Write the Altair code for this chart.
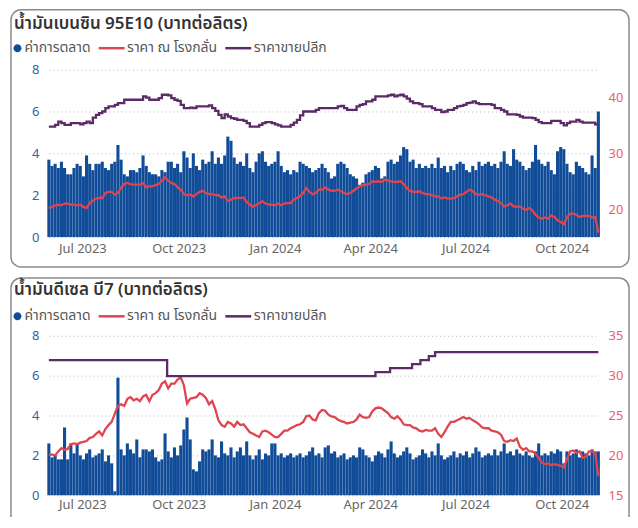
import altair as alt
import pandas as pd

# ---------------- data ----------------
START = "2023-05-30"          # first sample shown, then every 3 days
N_POINTS = 176

SERIES = ["ค่าการตลาด", "ราคา ณ โรงกลั่น", "ราคาขายปลีก"]

# Gasohol 95E10 -- marketing margin (left axis, baht/litre)
top_margin = [
    3.7, 3.4, 3.5, 3.3, 3.6, 3.3, 3.0, 3.0, 3.3, 3.5,
    3.4, 2.9, 3.9, 3.5, 3.2, 3.5, 3.5, 3.6, 3.3, 3.2,
    3.5, 3.6, 4.4, 3.7, 3.0, 2.9, 3.2, 3.2, 3.1, 3.3,
    3.9, 3.4, 3.1, 3.0, 3.0, 2.9, 3.2, 3.1, 3.6, 3.6,
    3.3, 3.5, 3.1, 4.1, 3.8, 3.3, 4.0, 3.4, 3.2, 3.7,
    3.5, 3.6, 4.1, 3.5, 3.8, 3.5, 3.9, 4.8, 4.6, 3.8,
    3.5, 3.6, 3.4, 4.0, 3.3, 3.1, 3.6, 4.0, 4.1, 3.6,
    3.4, 3.5, 3.6, 4.1, 3.4, 3.1, 3.2, 3.0, 3.2, 3.1,
    3.6, 3.5, 3.4, 3.3, 3.1, 3.2, 3.3, 3.5, 3.3, 3.1,
    2.8, 2.9, 3.5, 3.6, 3.5, 3.3, 3.0, 2.9, 2.8, 2.5,
    2.6, 3.0, 3.1, 3.2, 3.4, 3.3, 2.8, 2.9, 3.6, 3.7,
    3.5, 3.6, 3.9, 4.3, 4.2, 3.6, 3.7, 3.3, 3.5, 3.3,
    3.4, 3.3, 3.5, 3.3, 3.8, 3.3, 3.4, 3.1, 3.4, 3.2,
    3.5, 3.6, 3.5, 3.2, 3.1, 3.4, 3.2, 3.6, 3.4, 3.5,
    3.6, 3.4, 3.5, 3.3, 3.6, 4.1, 3.5, 3.4, 4.2, 3.7,
    3.6, 3.4, 3.2, 3.3, 3.6, 4.4, 3.7, 3.5, 3.4, 3.6,
    3.2, 3.0, 4.1, 4.3, 4.2, 3.5, 3.1, 3.0, 3.6, 3.4,
    3.3, 3.1, 3.0, 3.9, 3.3, 6.0,
]
# Gasohol 95E10 -- ex-refinery price (right axis)
top_refinery = [
    20.2, 20.4, 20.7, 20.8, 20.7, 21.0, 21.0, 20.8, 20.8, 20.7,
    20.8, 20.4, 20.2, 21.1, 21.5, 21.9, 22.0, 22.0, 22.9, 23.1,
    23.1, 22.6, 22.9, 23.8, 24.5, 24.7, 24.5, 24.4, 24.4, 24.4,
    24.7, 23.9, 24.1, 24.1, 24.3, 24.5, 25.1, 25.7, 25.1, 24.7,
    24.5, 23.9, 23.5, 22.7, 22.5, 22.6, 22.3, 22.7, 23.1, 23.3,
    22.9, 22.7, 22.7, 22.5, 22.5, 22.1, 22.3, 21.5, 21.7, 22.0,
    22.0, 22.0, 22.1, 21.3, 20.8, 20.5, 20.7, 21.1, 21.4, 21.0,
    20.8, 20.8, 20.7, 21.0, 20.7, 21.0, 21.1, 21.1, 21.7, 22.0,
    22.3, 22.9, 23.8, 23.1, 22.7, 22.9, 23.5, 23.5, 23.9, 23.5,
    23.3, 23.3, 23.5, 23.2, 22.9, 22.7, 22.9, 23.3, 23.7, 24.1,
    24.3, 24.4, 24.5, 25.0, 24.9, 25.0, 24.9, 25.3, 25.1, 25.0,
    24.9, 24.9, 25.0, 24.5, 23.8, 23.3, 23.1, 23.1, 23.2, 22.9,
    22.7, 22.7, 22.5, 22.3, 22.3, 21.9, 22.1, 21.9, 21.9, 22.0,
    22.3, 22.6, 22.7, 23.1, 23.5, 23.2, 22.7, 22.6, 22.7, 22.5,
    22.3, 22.1, 21.7, 21.5, 21.1, 20.5, 20.7, 21.0, 20.5, 20.4,
    20.5, 20.1, 19.9, 20.2, 19.8, 19.0, 18.5, 18.3, 18.5, 18.3,
    18.9, 18.6, 18.0, 17.7, 17.3, 18.5, 19.2, 19.2, 19.0, 18.6,
    18.8, 18.8, 18.8, 18.5, 18.6, 15.8,
]
# Gasohol 95E10 -- retail price (right axis)
top_retail = [
    34.8, 34.8, 35.1, 35.7, 35.4, 35.1, 35.1, 35.4, 35.4, 35.4,
    35.2, 35.4, 35.7, 35.4, 36.4, 36.9, 37.2, 37.5, 38.1, 38.4,
    38.4, 38.7, 39.0, 39.0, 39.6, 39.6, 39.6, 39.6, 39.6, 39.6,
    40.2, 40.0, 39.6, 39.6, 39.6, 39.9, 40.5, 40.5, 40.4, 39.9,
    39.6, 39.4, 38.7, 38.1, 38.1, 38.2, 38.1, 38.4, 38.4, 38.4,
    38.4, 38.6, 38.1, 37.6, 36.9, 36.3, 37.0, 36.6, 36.3, 36.2,
    36.0, 36.0, 35.8, 35.4, 34.8, 34.8, 34.8, 35.1, 35.4, 35.6,
    35.6, 35.4, 35.2, 35.0, 34.8, 34.8, 34.8, 35.1, 35.5, 36.0,
    36.8, 37.5, 37.5, 37.5, 37.5, 37.8, 38.1, 38.1, 38.1, 38.1,
    38.1, 38.1, 38.4, 38.5, 38.1, 37.8, 37.8, 37.8, 38.4, 38.7,
    38.8, 39.3, 39.3, 39.6, 40.2, 40.2, 40.2, 40.2, 40.4, 40.5,
    40.2, 40.4, 40.5, 40.2, 39.8, 39.3, 39.0, 39.0, 38.8, 38.4,
    38.4, 38.4, 38.1, 37.8, 37.8, 37.4, 37.5, 37.8, 37.8, 38.1,
    38.4, 38.5, 38.7, 39.0, 39.1, 39.3, 39.0, 38.8, 38.8, 38.8,
    38.8, 38.7, 38.1, 38.1, 37.8, 37.5, 37.0, 37.0, 37.0, 36.9,
    36.6, 36.4, 36.4, 36.4, 36.3, 36.0, 35.6, 35.4, 35.4, 35.4,
    35.8, 35.8, 35.8, 35.4, 35.0, 35.4, 35.7, 35.7, 36.0, 35.7,
    35.5, 35.5, 35.5, 35.5, 35.2, 35.2,
]

# Diesel B7 -- marketing margin (left axis)
bot_margin = [
    2.6, 1.9, 2.0, 1.8, 1.8, 3.4, 1.8, 2.6, 2.1, 2.6,
    2.0, 1.8, 2.1, 2.3, 1.9, 2.0, 2.1, 2.3, 1.7, 2.0,
    1.6, 0.2, 5.9, 2.3, 2.0, 2.6, 2.3, 2.1, 2.8, 1.9,
    2.3, 2.3, 2.2, 2.3, 1.9, 1.7, 1.8, 3.1, 2.2, 1.9,
    2.4, 2.0, 2.5, 3.3, 3.9, 2.8, 1.3, 1.2, 1.7, 2.3,
    2.2, 2.3, 2.8, 2.0, 1.9, 2.7, 2.1, 2.0, 2.4, 1.9,
    2.2, 2.4, 2.0, 2.7, 2.0, 1.8, 2.0, 2.3, 1.8, 2.1,
    2.0, 2.6, 2.6, 2.0, 2.1, 1.9, 2.0, 2.1, 1.9, 2.0,
    2.1, 1.9, 2.0, 2.2, 2.4, 2.0, 2.1, 1.9, 2.4, 2.5,
    2.1, 2.2, 1.9, 2.0, 2.1, 1.8, 1.9, 2.0, 1.9, 2.4,
    2.3, 2.0, 1.9, 1.7, 2.0, 2.2, 2.1, 1.9, 2.3, 2.7,
    2.1, 1.9, 2.0, 2.2, 2.4, 2.1, 1.8, 1.9, 2.0, 2.3,
    2.1, 1.9, 2.2, 2.0, 2.6, 2.0, 1.8, 1.9, 2.0, 2.2,
    1.9, 2.1, 2.0, 2.2, 1.9, 2.1, 2.4, 2.2, 1.9, 2.0,
    2.1, 2.0, 2.3, 2.0, 2.2, 2.6, 2.1, 2.2, 2.0, 2.3,
    2.1, 2.0, 2.2, 2.0, 1.9, 2.2, 2.6, 2.0, 2.1, 2.0,
    2.2, 2.1, 2.3, 2.2, 1.6, 2.2, 2.0, 2.1, 2.3, 1.9,
    2.2, 2.1, 2.0, 2.3, 2.2, 2.2,
]
# Diesel B7 -- ex-refinery price (right axis)
bot_refinery = [
    20.1, 20.1, 20.0, 20.5, 20.9, 20.7, 20.8, 21.4, 21.5, 21.4,
    21.6, 21.7, 21.8, 22.2, 22.3, 22.7, 23.0, 22.5, 23.3, 23.8,
    24.2, 25.2, 26.2, 26.4, 26.2, 27.1, 27.3, 26.9, 27.1, 26.8,
    27.4, 27.6, 26.8, 27.6, 27.8, 28.2, 29.0, 29.3, 28.4, 29.0,
    29.0, 29.5, 29.8, 28.8, 26.5, 27.1, 27.2, 27.3, 27.8, 27.6,
    27.2, 26.4, 26.8, 25.8, 24.4, 23.8, 23.6, 24.2, 24.0, 23.6,
    24.2, 23.8, 23.9, 23.4, 22.9, 22.7, 22.5, 22.3, 23.0, 23.1,
    22.9, 22.6, 22.3, 22.3, 22.7, 23.1, 23.1, 23.4, 23.6, 23.8,
    23.9, 24.2, 24.9, 25.0, 24.5, 24.4, 25.3, 25.7, 25.6, 25.1,
    24.9, 24.8, 24.5, 24.3, 24.2, 24.0, 24.1, 24.2, 24.5, 25.1,
    24.8, 24.7, 24.8, 25.5, 25.9, 26.0, 25.9, 25.6, 25.3, 24.8,
    24.6, 24.9, 24.5, 23.9, 23.8, 23.8, 23.5, 23.4, 23.1, 23.0,
    23.2, 23.1, 23.1, 23.4, 22.7, 22.3, 22.9, 23.6, 24.2, 24.2,
    24.4, 24.6, 24.8, 24.6, 24.7, 24.4, 24.2, 23.9, 23.5, 23.4,
    23.4, 23.1, 23.0, 22.9, 22.6, 21.8, 21.7, 21.9, 21.8, 22.1,
    21.1, 20.7, 20.9, 20.5, 20.5, 20.2, 19.7, 19.1, 18.9, 19.0,
    18.8, 18.9, 18.8, 18.7, 18.5, 19.5, 20.5, 20.6, 20.3, 20.5,
    19.7, 19.8, 20.5, 20.5, 20.3, 17.4,
]
# Diesel B7 -- retail price, stepwise (date of change, new price)
bot_retail_dates = ["2023-05-30", "2023-09-20", "2024-04-06", "2024-04-20",
                    "2024-05-11", "2024-05-19", "2024-05-27", "2024-06-02",
                    "2024-11-05"]
bot_retail_values = [31.94, 29.94, 30.44, 30.94, 31.44, 31.94, 32.44, 32.94, 32.94]

x_tick_dates = [(2023, 7), (2023, 10), (2024, 1), (2024, 4), (2024, 7), (2024, 10)]

# ---------------- styling ----------------
BLUE = "#114c99"
RED = "#e0444f"
PURPLE = "#5b2a67"
LEFT_LABEL = "#2f62a8"
RIGHT_LABEL = "#e8626c"
THAI = "Noto Sans Thai, Noto Sans, DejaVu Sans, sans-serif"
NUM = "Noto Sans, Open Sans, DejaVu Sans, sans-serif"

BOX_W = 620
# legend glyphs (unit = 5.5 px with symbolSize 121)
CIRCLE_PATH = "M-0.545,0A0.727,0.727,0,1,0,0.909,0A0.727,0.727,0,1,0,-0.545,0Z"
LINE_PATH = "M-3.727,-0.227H1V0.227H-3.727Z"

dates = pd.date_range(START, periods=N_POINTS, freq="3D")
top_df = pd.DataFrame({"date": dates, "margin": top_margin,
                       "refinery": top_refinery, "retail": top_retail})
bot_df = pd.DataFrame({"date": dates, "margin": bot_margin, "refinery": bot_refinery})
bot_retail_df = pd.DataFrame({"date": pd.to_datetime(bot_retail_dates),
                              "retail": bot_retail_values})
legend_df = pd.DataFrame({"series": SERIES})

x_scale = alt.Scale(domain=[alt.DateTime(year=2023, month=5, date=30),
                            alt.DateTime(year=2024, month=11, date=5)],
                    range=[38, 589.25], padding=0, nice=False)
x_values = [alt.DateTime(year=y, month=m, date=1) for y, m in x_tick_dates]


def panel(title, df, retail_df, right_domain, right_ticks, y_range, height,
          x_label_pad, title_dy):
    x_axis = alt.Axis(orient="bottom", offset=-(height - y_range[0]), values=x_values,
                      format="%b %Y", domain=False, ticks=False, tickSize=0,
                      labelPadding=x_label_pad, labelColor="#666666", labelFontSize=13,
                      labelFont=NUM, grid=False, title=None, labelFlush=False,
                      labelOverlap=False)
    x_enc = alt.X("date:T", scale=x_scale, axis=x_axis)
    x_plain = alt.X("date:T", scale=x_scale)

    right_axis = alt.Axis(orient="right", offset=-25, values=right_ticks,
                          domain=False, ticks=False, tickSize=0, labelPadding=4,
                          labelColor=RIGHT_LABEL, labelFontSize=13, labelFont=NUM,
                          grid=False, title=None)
    right_scale = alt.Scale(domain=right_domain, range=y_range, nice=False, zero=False)

    bars = alt.Chart(df).mark_bar(width=3.1, color=BLUE).encode(
        x=x_enc,
        y=alt.Y("margin:Q",
                scale=alt.Scale(domain=[0, 8], range=y_range, nice=False),
                axis=alt.Axis(orient="left", offset=-32, values=[0, 2, 4, 6, 8],
                              domain=False, ticks=False, tickSize=0, labelPadding=4,
                              labelColor=LEFT_LABEL, labelFontSize=13, labelFont=NUM,
                              grid=True, gridDash=[1, 3], gridColor="#b8b8b8",
                              gridWidth=1, title=None)),
    )
    red = alt.Chart(df).mark_line(color=RED, strokeWidth=2.3).encode(
        x=x_plain,
        y=alt.Y("refinery:Q", scale=right_scale, axis=right_axis),
    )
    purple = alt.Chart(retail_df).mark_line(
        color=PURPLE, strokeWidth=2.3, interpolate="step-after").encode(
        x=x_plain,
        y=alt.Y("retail:Q", scale=right_scale, axis=right_axis),
    )
    leg = alt.Legend(orient="none", legendX=-1.5, legendY=31.5, direction="horizontal",
                     title=None, symbolSize=121, labelOffset=1, columnPadding=7,
                     labelFontSize=14, labelColor="#555555", labelFont=THAI,
                     padding=0, symbolStrokeWidth=0)
    legend_layer = alt.Chart(legend_df).mark_point(
        filled=True, opacity=1, size=121).encode(
        color=alt.Color("series:N",
                        scale=alt.Scale(domain=SERIES, range=[BLUE, RED, PURPLE]),
                        legend=leg),
        shape=alt.Shape("series:N",
                        scale=alt.Scale(domain=SERIES,
                                        range=[CIRCLE_PATH, LINE_PATH, LINE_PATH]),
                        legend=leg),
    ).transform_filter("false")

    return alt.layer(
        bars, alt.layer(red, purple), legend_layer
    ).resolve_scale(y="independent").properties(
        width=BOX_W, height=height,
        title=alt.TitleParams(text=title, anchor="start", frame="group", dx=3,
                              dy=title_dy, offset=0, font=THAI, fontSize=17,
                              fontWeight=600, color="#333333"),
    )


top = panel("น้ำมันเบนซิน 95E10 (บาทต่อลิตร)", top_df, top_df,
            [15, 45], [20, 30, 40], [228, 60], 258, 5, 23)
bottom = panel("น้ำมันดีเซล บี7 (บาทต่อลิตร)", bot_df, bot_retail_df,
               [15, 35], [15, 20, 25, 30, 35], [218, 58], 250, 3, 21)

chart = alt.vconcat(top, bottom, spacing=11, bounds="flush").resolve_scale(
    color="independent", shape="independent"
).resolve_legend(
    color="independent", shape="independent"
).properties(
    padding={"left": 0, "top": 0, "right": 0, "bottom": -12.5},
).configure_view(stroke="#8a8a8a", strokeWidth=1.5, cornerRadius=10)

chart.save("out.html", embed_options={"renderer": "svg", "actions": False})
